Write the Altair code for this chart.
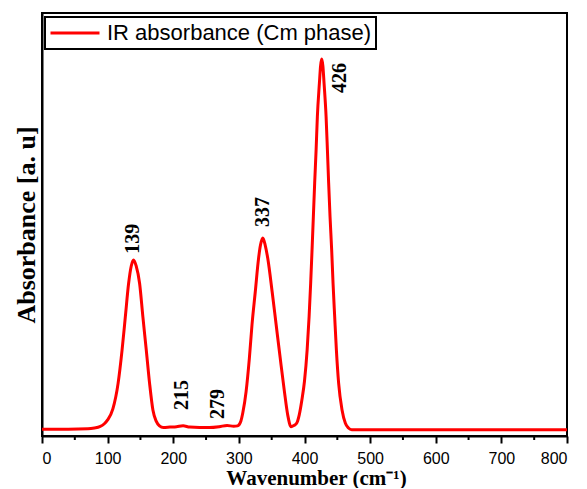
import altair as alt
import pandas as pd

# ---- data ----
wavenumber = [0, 40, 70, 80, 88, 95, 100, 108, 116, 122, 127, 132, 136, 139.5, 143.5,
              148.7, 153.7, 158.9, 163.9, 169, 174, 179, 185, 195, 205, 215, 225, 240,
              255, 270, 282, 292, 298, 303, 306, 311, 316, 320, 325, 330, 333, 336.5,
              340, 344, 350.7, 356.8, 363, 369.4, 374.4, 379.6, 384, 388, 392, 396, 400,
              404, 407, 409.4, 411.5, 413.5, 415.5, 417.7, 419.6, 422.7, 424.5, 426.2,
              428, 429.8, 432.9, 434.9, 436.8, 438.9, 441.4, 443.5, 446, 448.6, 452,
              457.2, 462.3, 467, 472, 480, 550, 650, 800]
absorbance = [0.016, 0.016, 0.017, 0.019, 0.022, 0.029, 0.038, 0.064, 0.125, 0.203,
              0.282, 0.361, 0.402, 0.416, 0.402, 0.361, 0.282, 0.203, 0.125, 0.0615,
              0.035, 0.024, 0.020, 0.021, 0.022, 0.024, 0.021, 0.020, 0.020, 0.022,
              0.025, 0.023, 0.024, 0.035, 0.055, 0.105, 0.184, 0.263, 0.341, 0.420,
              0.452, 0.468, 0.452, 0.420, 0.341, 0.263, 0.184, 0.105, 0.050, 0.022,
              0.025, 0.030, 0.050, 0.085, 0.130, 0.203, 0.282, 0.361, 0.440, 0.519,
              0.598, 0.677, 0.755, 0.834, 0.875, 0.891, 0.875, 0.834, 0.755, 0.677,
              0.598, 0.519, 0.440, 0.361, 0.282, 0.203, 0.125, 0.0615, 0.030, 0.019,
              0.015, 0.015, 0.015, 0.015, 0.015]

series_name = "IR absorbance (Cm phase)"

peak_labels = ["139", "215", "279", "337", "426"]
label_x = [138.5, 213.4, 268.2, 336.0, 454.6]
label_y = [0.431, 0.0615, 0.040, 0.494, 0.811]

major_ticks = [0, 100, 200, 300, 400, 500, 600, 700, 800]
minor_ticks = [50, 150, 250, 350, 450, 550, 650, 750]

W, H = 525, 423

spec_df = pd.DataFrame({"wn": wavenumber, "abs": absorbance, "series": series_name})
lab_df = pd.DataFrame({"lx": label_x, "ly": label_y, "txt": peak_labels})
minor_df = pd.DataFrame({"m": minor_ticks})

x_scale = alt.Scale(domain=[0, 800], nice=False, zero=False)
y_scale = alt.Scale(domain=[0, 1], nice=False, zero=False)

line = alt.Chart(spec_df).mark_line(strokeWidth=3, interpolate="monotone").encode(
    x=alt.X("wn:Q", scale=x_scale,
            axis=alt.Axis(values=major_ticks, title="Wavenumber (cm⁻¹)", grid=False,
                          labelFont="Liberation Sans", labelFontSize=16, labelColor="black",
                          labelPadding=7, tickSize=7, tickWidth=2, tickColor="black",
                          domainColor="black", domainWidth=2,
                          titleFont="Liberation Serif", titleFontWeight="bold",
                          titleFontSize=21, titleColor="black",
                          titleX=274, titleY=48, titleBaseline="alphabetic",
                          titleAlign="center")),
    y=alt.Y("abs:Q", scale=y_scale,
            axis=alt.Axis(labels=False, ticks=False, grid=False, title="Absorbance [a. u]",
                          domainColor="black", domainWidth=2,
                          titleFont="Liberation Serif", titleFontWeight="bold",
                          titleFontSize=26, titleColor="black",
                          titleX=-8, titleY=H / 2, titleAngle=270,
                          titleAlign="center", titleBaseline="alphabetic")),
    color=alt.Color("series:N", scale=alt.Scale(range=["#ff0000"]),
                    legend=alt.Legend(title=None, orient="none", legendX=3, legendY=4,
                                      symbolType="stroke", symbolSize=2401,
                                      symbolStrokeWidth=3, clipHeight=24,
                                      labelFont="Liberation Sans", labelFontSize=22,
                                      labelColor="black", labelOffset=6, padding=4,
                                      labelLimit=500,
                                      strokeColor="black", fillColor="white")),
)

minor = alt.Chart(minor_df).mark_rule(color="black", strokeWidth=2).encode(
    x=alt.X("m:Q", scale=x_scale),
    y=alt.value(H),
    y2=alt.value(H + 4),
)

labels = alt.Chart(lab_df).mark_text(angle=270, align="left", baseline="middle",
                                     font="Liberation Serif", fontWeight="bold",
                                     fontSize=20, color="black").encode(
    x=alt.X("lx:Q", scale=x_scale),
    y=alt.Y("ly:Q", scale=y_scale),
    text="txt:N",
)

chart = alt.layer(line, minor, labels).properties(
    width=W, height=H,
    padding={"left": 34, "top": 5, "right": 12, "bottom": 52},
    autosize="none",
).configure_view(stroke="black", strokeWidth=2).configure_legend(strokeWidth=2)

chart.save("out.html", embed_options={"renderer": "svg", "actions": False})
